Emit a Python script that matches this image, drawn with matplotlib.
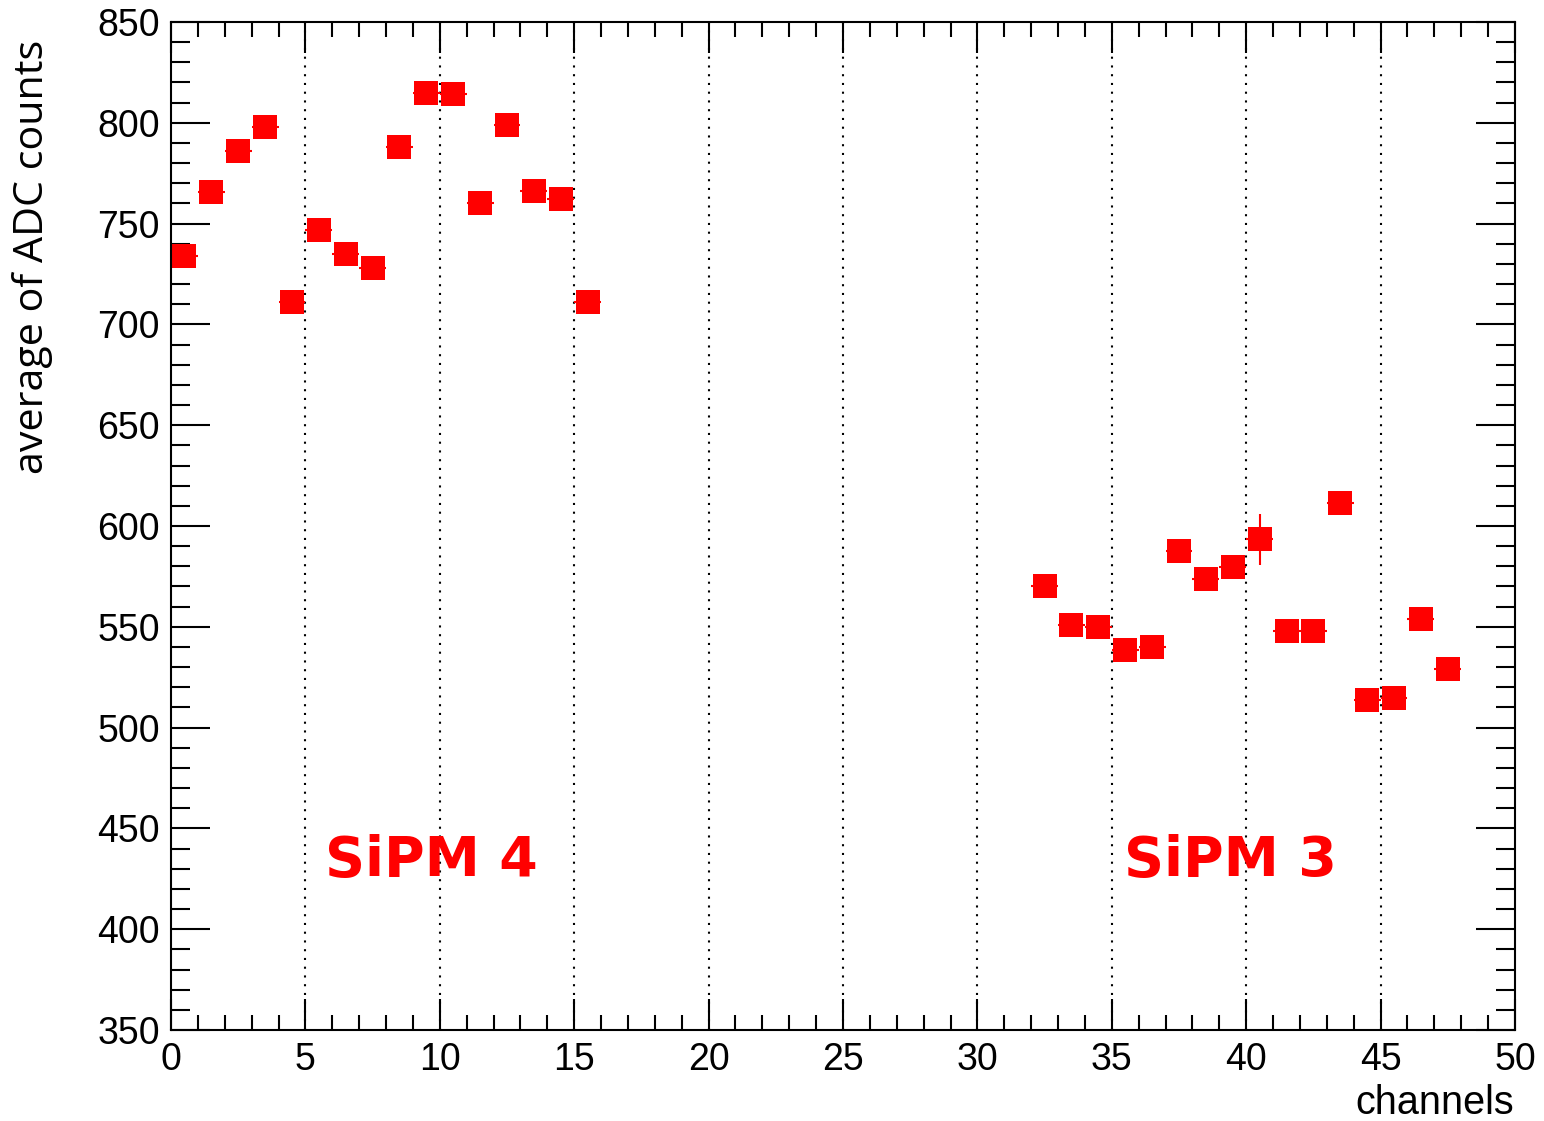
import matplotlib
matplotlib.use("Agg")
import matplotlib.pyplot as plt
import numpy as np
from matplotlib.ticker import MultipleLocator

# Data
x_sipm4 = [0.5, 1.5, 2.5, 3.5, 4.5, 5.5, 6.5, 7.5, 8.5, 9.5, 10.5, 11.5, 12.5, 13.5, 14.5, 15.5]
y_sipm4 = [734, 765.5, 786, 798, 711, 747, 735, 728, 788, 815, 814.5, 760, 799, 766, 762, 711]
yerr_sipm4 = [2, 2, 2, 2, 2, 2, 2, 2, 2, 2, 2, 2, 2, 2, 2, 2]

x_sipm3 = [32.5, 33.5, 34.5, 35.5, 36.5, 37.5, 38.5, 39.5, 40.5, 41.5, 42.5, 43.5, 44.5, 45.5, 46.5, 47.5]
y_sipm3 = [570, 551, 550, 538.5, 540, 587.5, 573.5, 579.5, 593.5, 548, 548, 611.5, 513.5, 514.5, 554, 529]
yerr_sipm3 = [2, 2, 2, 2, 2, 2, 2, 2, 12.6, 2, 2, 2, 2, 2, 2, 2]

x_err = 0.5
grid_x = [5, 10, 15, 20, 25, 30, 35, 40, 45]
labels = ["SiPM 4", "SiPM 3"]
label_pos = [(9.7, 434), (39.4, 434)]

plt.rcParams['font.family'] = ['Liberation Sans', 'DejaVu Sans']

fig = plt.figure(figsize=(15.44, 11.21), dpi=100)
ax = fig.add_axes([171/1544, 1-1030/1121, (1515-171)/1544, (1030-22)/1121])

ax.set_xlim(0, 50)
ax.set_ylim(350, 850)

for gx in grid_x:
    ax.axvline(gx, color='black', lw=1.5, linestyle=(0, (1, 3.2)), zorder=1)

for xs, ys, ye in [(x_sipm4, y_sipm4, yerr_sipm4), (x_sipm3, y_sipm3, yerr_sipm3)]:
    ax.errorbar(xs, ys, xerr=x_err, yerr=ye, fmt='s', color='#ff0000',
                markersize=17.5, elinewidth=1.5, capsize=0, zorder=2,
                markeredgewidth=0)

for t, (tx, ty) in zip(labels, label_pos):
    ax.text(tx, ty, t, color='#ff0000', fontsize=40, fontweight='bold', ha='center', va='center',
            family=['DejaVu Sans'], zorder=4)

ax.xaxis.set_major_locator(MultipleLocator(5))
ax.xaxis.set_minor_locator(MultipleLocator(1))
ax.yaxis.set_major_locator(MultipleLocator(50))
ax.yaxis.set_minor_locator(MultipleLocator(10))

ax.tick_params(axis='both', which='both', direction='in', top=True, right=True,
               width=1.5, labelsize=27)
ax.tick_params(axis='x', which='major', length=22, pad=9)
ax.tick_params(axis='x', which='minor', length=11)
ax.tick_params(axis='y', which='major', length=28, pad=8)
ax.tick_params(axis='y', which='minor', length=14)

for s in ax.spines.values():
    s.set_linewidth(1.5)

fig.text(33/1544, 1-40/1121, "average of ADC counts", rotation=90, ha='center', va='top',
         fontsize=29.7, family=['Open Sans', 'DejaVu Sans'])
fig.text(1514/1544, 1-1103/1121, "channels", ha='right', va='center', fontsize=28.5)

fig.savefig("out.png", dpi=100)
